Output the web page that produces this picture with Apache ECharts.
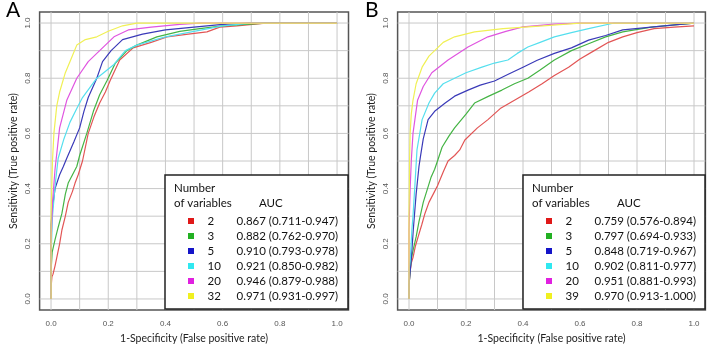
<!DOCTYPE html>
<html><head><meta charset="utf-8">
<script src="https://cdn.jsdelivr.net/npm/echarts@6/dist/echarts.min.js"></script>
<style>html,body{margin:0;padding:0;background:#fff}#c{width:707px;height:357px}</style>
</head><body><div id="c"></div>
<script>
// ---------- data ----------
const varsA = ['2','3','5','10','20','32'];
const aucA = ['0.867 (0.711-0.947)','0.882 (0.762-0.970)','0.910 (0.793-0.978)','0.921 (0.850-0.982)','0.946 (0.879-0.988)','0.971 (0.931-0.997)'];
const varsB = ['2','3','5','10','20','39'];
const aucB = ['0.759 (0.576-0.894)','0.797 (0.694-0.933)','0.848 (0.719-0.967)','0.902 (0.811-0.977)','0.951 (0.881-0.993)','0.970 (0.913-1.000)'];
const tickLabels = [0,0.2,0.4,0.6,0.8,1.0];
const gridTicks = [0,0.1,0.2,0.3,0.4,0.5,0.6,0.7,0.8,0.9,1.0];

const rocA2 = [[0,0],[0,0.04],[0.003,0.08],[0.007,0.09],[0.014,0.12],[0.02,0.15],[0.03,0.2],[0.038,0.25],[0.05,0.3],[0.06,0.35],[0.075,0.39],[0.084,0.42],[0.095,0.45],[0.11,0.5],[0.13,0.6],[0.15,0.66],[0.17,0.71],[0.19,0.75],[0.206,0.79],[0.24,0.866],[0.287,0.91],[0.35,0.93],[0.405,0.95],[0.48,0.96],[0.545,0.968],[0.59,0.985],[0.65,0.99],[0.75,1],[1,1]];
const rocA3 = [[0,0],[0,0.1],[0.004,0.17],[0.014,0.215],[0.025,0.26],[0.038,0.31],[0.05,0.38],[0.06,0.42],[0.075,0.45],[0.09,0.48],[0.1,0.52],[0.125,0.6],[0.148,0.68],[0.17,0.74],[0.195,0.79],[0.225,0.855],[0.265,0.9],[0.3,0.92],[0.37,0.95],[0.45,0.97],[0.52,0.98],[0.6,0.99],[0.75,1],[1,1]];
const rocA5 = [[0,0],[0,0.2],[0,0.27],[0.005,0.33],[0.014,0.4],[0.03,0.45],[0.043,0.48],[0.055,0.51],[0.08,0.57],[0.1,0.62],[0.115,0.68],[0.13,0.73],[0.16,0.8],[0.18,0.86],[0.21,0.9],[0.25,0.94],[0.32,0.96],[0.4,0.975],[0.5,0.985],[0.6,0.995],[0.7,1],[1,1]];
const rocA10 = [[0,0],[0,0.15],[0.005,0.3],[0.015,0.42],[0.025,0.51],[0.045,0.58],[0.066,0.64],[0.09,0.69],[0.11,0.73],[0.16,0.8],[0.22,0.85],[0.26,0.9],[0.3,0.92],[0.4,0.95],[0.5,0.97],[0.6,0.99],[0.7,1],[1,1]];
const rocA20 = [[0,0],[0,0.2],[0.005,0.35],[0.014,0.47],[0.03,0.62],[0.055,0.72],[0.09,0.8],[0.13,0.86],[0.17,0.9],[0.22,0.95],[0.27,0.975],[0.35,0.985],[0.45,0.995],[0.52,1],[1,1]];
const rocA32 = [[0,0],[0,0.3],[0.005,0.5],[0.01,0.6],[0.02,0.7],[0.03,0.75],[0.05,0.82],[0.07,0.87],[0.09,0.92],[0.12,0.94],[0.16,0.95],[0.2,0.97],[0.25,0.99],[0.3,1],[1,1]];

const rocB2 = [[0,0],[0,0.05],[0.004,0.1],[0.008,0.13],[0.014,0.15],[0.022,0.19],[0.032,0.225],[0.045,0.27],[0.056,0.31],[0.07,0.35],[0.085,0.38],[0.1,0.41],[0.12,0.46],[0.137,0.5],[0.16,0.52],[0.178,0.54],[0.196,0.576],[0.24,0.62],[0.277,0.65],[0.32,0.69],[0.37,0.72],[0.42,0.75],[0.467,0.78],[0.51,0.81],[0.56,0.84],[0.6,0.87],[0.65,0.9],[0.7,0.93],[0.75,0.95],[0.8,0.965],[0.86,0.98],[0.93,0.985],[1,0.99]];
const rocB3 = [[0,0],[0,0.05],[0.004,0.1],[0.007,0.14],[0.015,0.18],[0.025,0.225],[0.035,0.28],[0.05,0.35],[0.065,0.4],[0.077,0.44],[0.09,0.47],[0.1,0.5],[0.116,0.55],[0.14,0.59],[0.16,0.62],[0.2,0.67],[0.23,0.71],[0.28,0.735],[0.326,0.757],[0.37,0.78],[0.417,0.8],[0.46,0.83],[0.51,0.866],[0.57,0.9],[0.63,0.925],[0.69,0.95],[0.75,0.968],[0.85,0.985],[1,1]];
const rocB5 = [[0,0],[0,0.05],[0.004,0.1],[0.007,0.13],[0.015,0.25],[0.025,0.38],[0.035,0.48],[0.04,0.515],[0.05,0.58],[0.067,0.65],[0.09,0.68],[0.127,0.71],[0.16,0.735],[0.207,0.757],[0.25,0.775],[0.3,0.79],[0.35,0.815],[0.4,0.84],[0.45,0.865],[0.51,0.89],[0.57,0.91],[0.63,0.938],[0.69,0.955],[0.75,0.975],[0.85,0.985],[0.95,0.995],[1,1]];
const rocB10 = [[0,0],[0,0.1],[0.005,0.15],[0.01,0.25],[0.014,0.3],[0.02,0.4],[0.028,0.54],[0.046,0.65],[0.07,0.71],[0.09,0.746],[0.12,0.78],[0.16,0.8],[0.2,0.82],[0.256,0.84],[0.3,0.855],[0.347,0.866],[0.38,0.89],[0.417,0.913],[0.46,0.93],[0.51,0.95],[0.57,0.965],[0.63,0.98],[0.72,1],[1,1]];
const rocB20 = [[0,0],[0,0.25],[0.004,0.4],[0.008,0.5],[0.014,0.6],[0.03,0.72],[0.05,0.77],[0.08,0.82],[0.137,0.866],[0.207,0.913],[0.277,0.95],[0.34,0.97],[0.4,0.986],[0.51,0.996],[0.6,1],[1,1]];
const rocB39 = [[0,0],[0,0.3],[0.002,0.5],[0.004,0.6],[0.008,0.67],[0.014,0.72],[0.025,0.78],[0.046,0.84],[0.07,0.88],[0.09,0.9],[0.12,0.93],[0.16,0.95],[0.23,0.968],[0.33,0.98],[0.47,0.99],[0.6,1],[1,1]];

const rocsA = [rocA2, rocA3, rocA5, rocA10, rocA20, rocA32];
const rocsB = [rocB2, rocB3, rocB5, rocB10, rocB20, rocB39];

// ---------- styles ----------
const lineColors = ['#e25555','#45b445','#3a3ab8','#55dfee','#e055e0','#f0f055'];
const iconColors = ['#e01818','#22b022','#1414c8','#30e8f0','#e020e0','#f0f020'];
const gridColor = '#c8c8c8';
const FONT = 'Lato';
const LO = -0.04, HI = 1.04;

const chart = echarts.init(document.getElementById('c'), null, {renderer: 'canvas'});

function axisPair(gi, nameX, nameY) {
  const common = {
    type: 'value', gridIndex: gi, min: LO, max: HI,
    axisLine: {show: false}, axisTick: {show: false}, splitLine: {show: false},
    nameLocation: 'middle',
    nameTextStyle: {fontFamily: FONT, fontSize: 10.5, color: '#222'}
  };
  const x = Object.assign({}, common, {
    axisLabel: {customValues: tickLabels, formatter: v => v.toFixed(1), fontFamily: 'Liberation Sans', fontSize: 8, color: '#555', margin: 10},
    name: nameX, nameGap: 22
  });
  const y = Object.assign({}, common, {
    axisLabel: {customValues: tickLabels, formatter: v => v.toFixed(1), rotate: 90, fontFamily: 'Liberation Sans', fontSize: 8, color: '#555', margin: 8},
    name: nameY, nameGap: 20
  });
  return [x, y];
}
const [xA, yA] = axisPair(0, '1-Specificity (False positive rate)', 'Sensitivity (True positive rate)');
const [xB, yB] = axisPair(1, '1-Specificity (False positive rate)', 'Sensitivity (True positive rate)');

// background reference grid (every 0.1), spanning the full plot box
function gridLineSeries(gi) {
  const out = [];
  gridTicks.forEach((v, k) => {
    [[[v, LO], [v, HI]], [[LO, v], [HI, v]]].forEach((seg, d) => {
      out.push({
        name: 'g' + gi + '_' + d + '_' + k,
        type: 'line', xAxisIndex: gi, yAxisIndex: gi, data: seg, z: 3,
        showSymbol: false, symbol: 'none', animation: false, clip: false,
        lineStyle: {color: gridColor, width: 1}
      });
    });
  });
  return out;
}

function curveSeries(gi, prefix, vars, rocs) {
  return vars.map((v, i) => ({
    name: prefix + v, type: 'line', xAxisIndex: gi, yAxisIndex: gi,
    data: rocs[i], showSymbol: false, symbol: 'none', z: 4 + i, animation: false,
    lineStyle: {color: lineColors[i], width: 1.2},
    itemStyle: {color: iconColors[i]}
  }));
}

function legendFor(prefix, vars, aucs, left) {
  const map = {};
  vars.forEach((v, i) => { map[prefix + v] = [v, aucs[i]]; });
  return {
    data: vars.map(v => prefix + v), orient: 'vertical', left: left, top: 213.5,
    padding: 0, itemGap: 0, itemWidth: 6, itemHeight: 6, icon: 'rect', selectedMode: false, z: 20,
    formatter: name => `{p|}{n|${map[name][0]}}{a|${map[name][1]}}`,
    textStyle: {
      fontFamily: FONT, fontSize: 11.5, color: '#111', lineHeight: 15,
      rich: {
        p: {width: 8.5, lineHeight: 15},
        n: {width: 29, fontFamily: FONT, fontSize: 11.5, color: '#111', lineHeight: 15},
        a: {fontFamily: FONT, fontSize: 11.5, color: '#111', lineHeight: 15}
      }
    }
  };
}

function legendFrame(x, w) {
  return [
    {type: 'rect', z: 15, shape: {x: x, y: 175, width: w, height: 134}, style: {fill: '#fff', stroke: '#222', lineWidth: 1.5}},
    {type: 'text', z: 21, x: x + 9, y: 188, style: {text: 'Number', fontFamily: FONT, fontSize: 11.5, fill: '#111', verticalAlign: 'middle'}},
    {type: 'text', z: 21, x: x + 9, y: 203, style: {text: 'of variables', fontFamily: FONT, fontSize: 11.5, fill: '#111', verticalAlign: 'middle'}},
    {type: 'text', z: 21, x: x + 94, y: 203, style: {text: 'AUC', fontFamily: FONT, fontSize: 11.5, fill: '#111', verticalAlign: 'middle'}}
  ];
}

chart.setOption({
  animation: false,
  backgroundColor: '#fff',
  title: [
    {text: 'A', left: 6, top: 0, padding: 0, textStyle: {fontFamily: FONT, fontSize: 21, fontWeight: 'normal', color: '#000'}},
    {text: 'B', left: 365, top: 0, padding: 0, textStyle: {fontFamily: FONT, fontSize: 21, fontWeight: 'normal', color: '#000'}}
  ],
  grid: [
    {z: 0, left: 39.6, top: 12, width: 308.9, height: 298, show: true, borderColor: '#555', borderWidth: 1.5, backgroundColor: 'rgba(0,0,0,0)', containLabel: false},
    {z: 0, left: 397.6, top: 12, width: 307.8, height: 298, show: true, borderColor: '#555', borderWidth: 1.5, backgroundColor: 'rgba(0,0,0,0)', containLabel: false}
  ],
  xAxis: [xA, xB],
  yAxis: [yA, yB],
  legend: [legendFor('A', varsA, aucA, 188), legendFor('B', varsB, aucB, 546)],
  graphic: legendFrame(165, 183).concat(legendFrame(523, 182)),
  series: gridLineSeries(0).concat(gridLineSeries(1))
    .concat(curveSeries(0, 'A', varsA, rocsA))
    .concat(curveSeries(1, 'B', varsB, rocsB))
});
</script></body></html>
